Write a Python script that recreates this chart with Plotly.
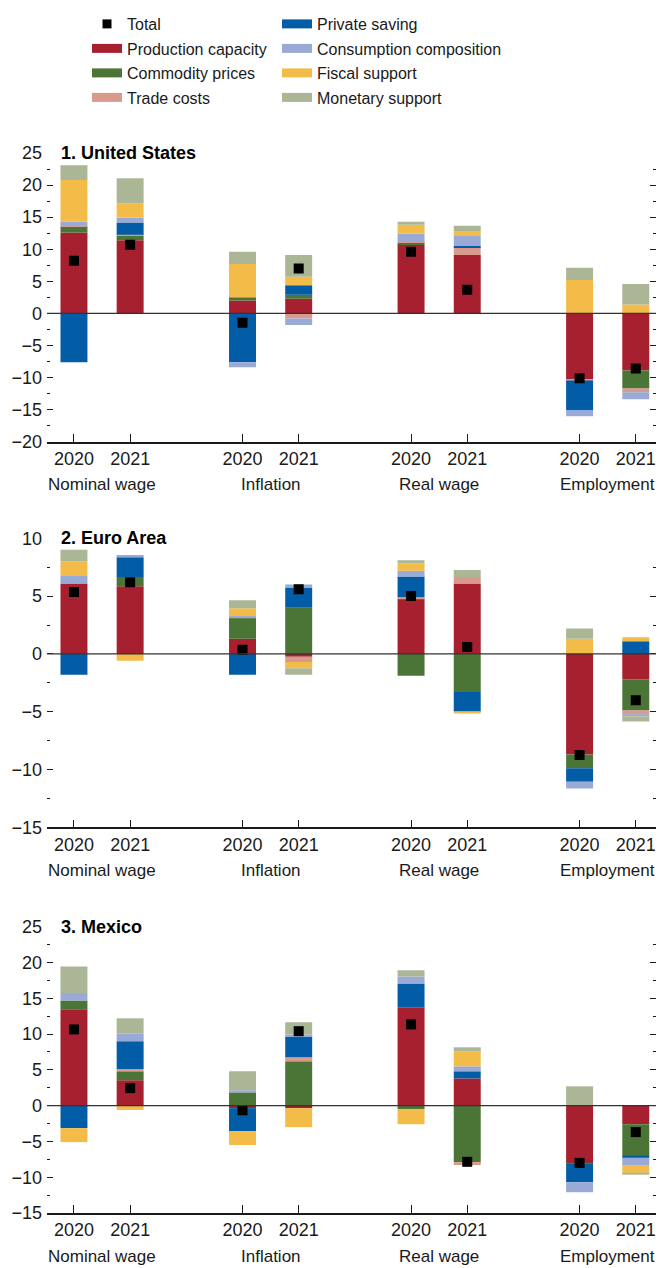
import plotly.graph_objects as go

# ---------------- data ----------------
positions = [0, 1, 3, 4, 6, 7, 9, 10]
year_labels = ["2020", "2021", "2020", "2021", "2020", "2021", "2020", "2021"]
groups = ["Nominal wage", "Inflation", "Real wage", "Employment"]
group_centers = [0.5, 3.5, 6.5, 9.5]

components = ["Production capacity", "Commodity prices", "Trade costs", "Private saving",
              "Consumption composition", "Fiscal support", "Monetary support"]
colors = ["#A6202F", "#4A7536", "#D99A8D", "#025DA6", "#9AAAD6", "#F3BC48", "#ABB696"]

panel_titles = ["1. United States", "2. Euro Area", "3. Mexico"]

# order of each list: NW2020, NW2021, Inf2020, Inf2021, RW2020, RW2021, Emp2020, Emp2021
us_production = [12.6, 11.4, 2.0, 2.3, 10.7, 9.1, -10.3, -8.9]
us_commodity = [0.9, 0.7, 0.5, 0.6, 0.3, 0.0, 0.0, -2.8]
us_trade = [0.1, 0.15, 0.0, -0.8, 0.15, 1.1, -0.15, -0.6]
us_private = [-7.6, 1.9, -7.6, 1.5, 0.0, 0.3, -4.7, 0.0]
us_consumption = [0.7, 0.8, -0.8, -1.0, 1.25, 1.55, -0.9, -1.1]
us_fiscal = [6.5, 2.2, 5.2, 1.3, 1.4, 0.8, 5.2, 1.4]
us_monetary = [2.3, 3.9, 1.9, 3.4, 0.5, 0.8, 1.9, 3.2]
us_total = [8.2, 10.7, -1.45, 7.0, 9.6, 3.7, -10.1, -8.6]

ea_production = [6.1, 5.85, 1.3, -0.25, 4.8, 6.1, -8.7, -2.2]
ea_commodity = [0.0, 0.8, 1.8, 4.0, -1.9, -3.3, -1.2, -2.7]
ea_trade = [0.0, 0.0, 0.1, -0.45, 0.1, 0.55, 0.0, -0.35]
ea_private = [-1.8, 1.7, -1.8, 1.75, 1.8, -1.7, -1.15, 1.1]
ea_consumption = [0.7, 0.2, 0.15, 0.25, 0.5, 0.0, -0.6, -0.15]
ea_fiscal = [1.2, -0.6, 0.6, -0.55, 0.65, -0.15, 1.3, 0.35]
ea_monetary = [1.0, 0.0, 0.7, -0.55, 0.25, 0.6, 0.9, -0.45]
ea_total = [5.35, 6.2, 0.35, 5.6, 5.0, 0.6, -8.75, -4.0]

mx_production = [13.45, 3.55, -0.35, -0.35, 13.75, 3.8, -8.0, -2.6]
mx_commodity = [1.25, 1.25, 1.85, 6.2, -0.5, -7.9, -0.15, -4.45]
mx_trade = [0.0, 0.3, 0.0, 0.55, 0.0, -0.4, 0.0, 0.0]
mx_private = [-3.15, 3.9, -3.2, 2.9, 3.3, 1.0, -2.55, -0.25]
mx_consumption = [1.05, 1.1, 0.3, 0.3, 1.0, 0.7, -1.4, -1.0]
mx_fiscal = [-1.95, -0.6, -1.95, -2.65, -2.1, 2.1, 0.0, -1.15]
mx_monetary = [3.7, 2.1, 2.65, 1.7, 0.85, 0.55, 2.7, -0.15]
mx_total = [10.65, 2.45, -0.65, 10.4, 11.35, -7.85, -8.0, -3.7]

y_ranges = [[-20, 25], [-15, 10], [-15, 25]]
title_y = [25, 10, 25]

panels = [
    [us_production, us_commodity, us_trade, us_private, us_consumption, us_fiscal, us_monetary, us_total],
    [ea_production, ea_commodity, ea_trade, ea_private, ea_consumption, ea_fiscal, ea_monetary, ea_total],
    [mx_production, mx_commodity, mx_trade, mx_private, mx_consumption, mx_fiscal, mx_monetary, mx_total],
]

# ---------------- styling ----------------
FONT = "Liberation Sans, Arial, sans-serif"
INK = "#1a1a1a"

W, H = 658, 1268
mt, mb, ml, mr = 153, 55, 47, 2
plot_h = H - mt - mb
plot_w = W - ml - mr


def dom(top_px, bottom_px):
    return [(H - mb - bottom_px) / plot_h, (H - mb - top_px) / plot_h]


domains = [dom(153, 441.7), dom(538.3, 827.3), dom(926.7, 1213)]

fig = go.Figure()

for p, data in enumerate(panels):
    xa = "x" if p == 0 else f"x{p + 1}"
    ya = "y" if p == 0 else f"y{p + 1}"
    for k, name in enumerate(components):
        fig.add_trace(go.Bar(
            x=positions, y=data[k], name=name, marker=dict(color=colors[k], line=dict(width=0)),
            width=0.48, xaxis=xa, yaxis=ya, showlegend=False, hoverinfo="name+y"))
    fig.add_trace(go.Scatter(
        x=positions, y=data[7], mode="markers", name="Total",
        marker=dict(symbol="square", size=10, color="black"),
        xaxis=xa, yaxis=ya, showlegend=False))

# legend entries
fig.add_trace(go.Scatter(x=[None], y=[None], mode="markers", name="Total",
                         marker=dict(symbol="square", size=9, color="black"),
                         legend="legend", legendgroup="t"))
for k, name in enumerate(components):
    fig.add_trace(go.Scatter(x=[None], y=[None], mode="lines", name=name,
                             line=dict(color=colors[k], width=9),
                             legend="legend" if k < 3 else "legend2", legendgroup=name))

leg_y = 1 + (mt - 7) / plot_h
layout = dict(
    width=W, height=H,
    margin=dict(t=mt, b=mb, l=ml, r=mr, autoexpand=False),
    plot_bgcolor="white", paper_bgcolor="white",
    barmode="relative",
    font=dict(family=FONT, size=16, color=INK),
    legend=dict(x=(87 - ml) / plot_w, y=leg_y, xref="paper", yref="paper",
                xanchor="left", yanchor="top", font=dict(family=FONT, size=16, color=INK),
                tracegroupgap=0.7, bgcolor="rgba(0,0,0,0)", itemwidth=30),
    legend2=dict(x=(277 - ml) / plot_w, y=leg_y, xref="paper", yref="paper",
                 xanchor="left", yanchor="top", font=dict(family=FONT, size=16, color=INK),
                 tracegroupgap=0.7, bgcolor="rgba(0,0,0,0)", itemwidth=30),
    showlegend=True,
)

annotations = []
shapes = []
for p in range(3):
    sx = "" if p == 0 else str(p + 1)
    layout[f"xaxis{sx}"] = dict(
        domain=[0, 1], anchor=f"y{sx}", range=[-0.48, 10.36],
        tickmode="array", tickvals=positions, ticktext=year_labels, tickangle=0,
        ticks="inside", ticklen=8, tickwidth=1, tickcolor=INK,
        showline=True, linecolor=INK, linewidth=1.5,
        showgrid=False, zeroline=False, fixedrange=True,
        tickfont=dict(family=FONT, size=18, color=INK))
    layout[f"yaxis{sx}"] = dict(
        domain=domains[p], anchor=f"x{sx}", range=y_ranges[p],
        tickmode="linear", tick0=0, dtick=5,
        ticks="inside", ticklen=6, tickwidth=1, tickcolor=INK,
        showline=False, showgrid=False, zeroline=False, mirror="ticks",
        ticklabelstandoff=4,
        minor=dict(dtick=2.5, tick0=0, ticks="inside", ticklen=3, tickcolor=INK, showgrid=False),
        tickfont=dict(family=FONT, size=18, color=INK), fixedrange=True)
    annotations.append(dict(
        text="<b>" + panel_titles[p] + "</b>", xref=f"x{sx} domain", yref=f"y{sx}",
        x=0, y=title_y[p], xshift=12, xanchor="left", yanchor="middle", showarrow=False,
        font=dict(family=FONT, size=18, color="black")))
    for g, c in zip(groups, group_centers):
        annotations.append(dict(
            text=g, xref=f"x{sx}", yref=f"y{sx} domain", x=c, y=0, yshift=-43,
            xanchor="center", yanchor="middle", showarrow=False,
            font=dict(family=FONT, size=17, color=INK)))
    shapes.append(dict(type="line", xref=f"x{sx} domain", yref=f"y{sx}", x0=0, x1=1, y0=0, y1=0,
                       line=dict(color="#333333", width=1.2), layer="above"))

layout["annotations"] = annotations
layout["shapes"] = shapes
fig.update_layout(**layout)

fig.write_html(
    "out.html",
    config={"displayModeBar": False},
    post_script="document.body.style.margin='0';document.body.style.overflow='hidden';",
)
